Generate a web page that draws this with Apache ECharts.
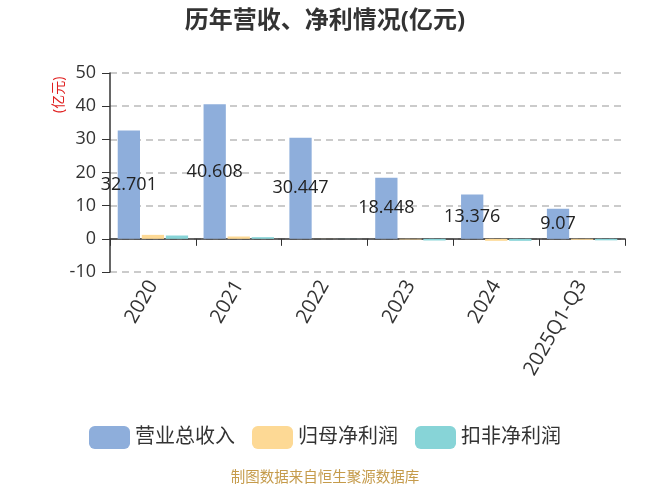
<!DOCTYPE html>
<html>
<head>
<meta charset="utf-8">
<script src="https://cdn.jsdelivr.net/npm/echarts@6/dist/echarts.min.js"></script>
<style>
  html, body { margin: 0; padding: 0; background: #fff; }
  #chart { width: 650px; height: 488px; }
</style>
</head>
<body>
<div id="chart"></div>
<script>
// data
let categories = ['2020', '2021', '2022', '2023', '2024', '2025Q1-Q3'];
let revenue = [32.701, 40.608, 30.447, 18.448, 13.376, 9.07];
let netProfit = [1.2, 0.7, 0.02, -0.2, -0.6, -0.3];
let deductedProfit = [1.0, 0.5, -0.02, -0.5, -0.6, -0.45];
let seriesNames = ['营业总收入', '归母净利润', '扣非净利润'];
let colors = ['#8eaedb', '#fdd995', '#87d4d7'];
let yTicks = { min: -10, max: 50, interval: 10 };

let font = "'Open Sans', 'Noto Sans CJK SC', sans-serif";
let myChart = echarts.init(document.getElementById('chart'));

let option = {
    animation: false,
    color: colors,
    textStyle: { fontFamily: font },
    title: {
        text: '历年营收、净利情况(亿元)',
        left: 'center',
        top: 4,
        textStyle: { fontSize: 24, fontWeight: 'bold', color: '#333', fontFamily: font }
    },
    legend: {
        top: 421,
        left: 'center',
        icon: 'roundRect',
        itemWidth: 41,
        itemHeight: 23,
        itemGap: 17,
        textStyle: { fontSize: 20, color: '#333' },
        data: seriesNames
    },
    grid: { left: 110, right: 25, top: 73, bottom: 216 },
    xAxis: [
        {
            type: 'category',
            data: categories,
            axisLine: { onZero: true, lineStyle: { color: '#333', width: 1.5 } },
            axisTick: { show: true, length: 7, lineStyle: { color: '#333' } },
            axisLabel: { show: false }
        },
        {
            type: 'category',
            data: categories,
            position: 'bottom',
            axisLine: { show: false, onZero: false },
            axisTick: { show: false },
            axisLabel: { rotate: 60, margin: 10, fontSize: 20, color: '#333', interval: 0 }
        }
    ],
    yAxis: {
        type: 'value',
        min: yTicks.min,
        max: yTicks.max,
        interval: yTicks.interval,
        axisLine: { show: true, lineStyle: { color: '#333', width: 1.5 } },
        axisTick: { show: true, length: 8, lineStyle: { color: '#333' } },
        axisLabel: { fontSize: 18, color: '#333', margin: 14 },
        splitLine: { lineStyle: { type: [7, 5], color: '#bbb', width: 1.5 } }
    },
    graphic: [
        {
            type: 'text',
            x: 52,
            y: 113,
            rotation: Math.PI / 2,
            style: { text: '(亿元)', fill: '#e02020', fontSize: 14, fontFamily: font }
        },
        {
            type: 'text',
            left: 'center',
            top: 471,
            style: { text: '制图数据来自恒生聚源数据库', fill: '#c59b4b', fontSize: 14.5, fontFamily: font }
        }
    ],
    series: [
        {
            name: seriesNames[0],
            type: 'bar',
            data: revenue,
            barGap: '8%',
            barCategoryGap: '18%',
            label: { show: true, position: 'inside', color: '#222', fontSize: 18 }
        },
        {
            name: seriesNames[1],
            type: 'bar',
            data: netProfit
        },
        {
            name: seriesNames[2],
            type: 'bar',
            data: deductedProfit
        }
    ]
};
myChart.setOption(option);
</script>
</body>
</html>
